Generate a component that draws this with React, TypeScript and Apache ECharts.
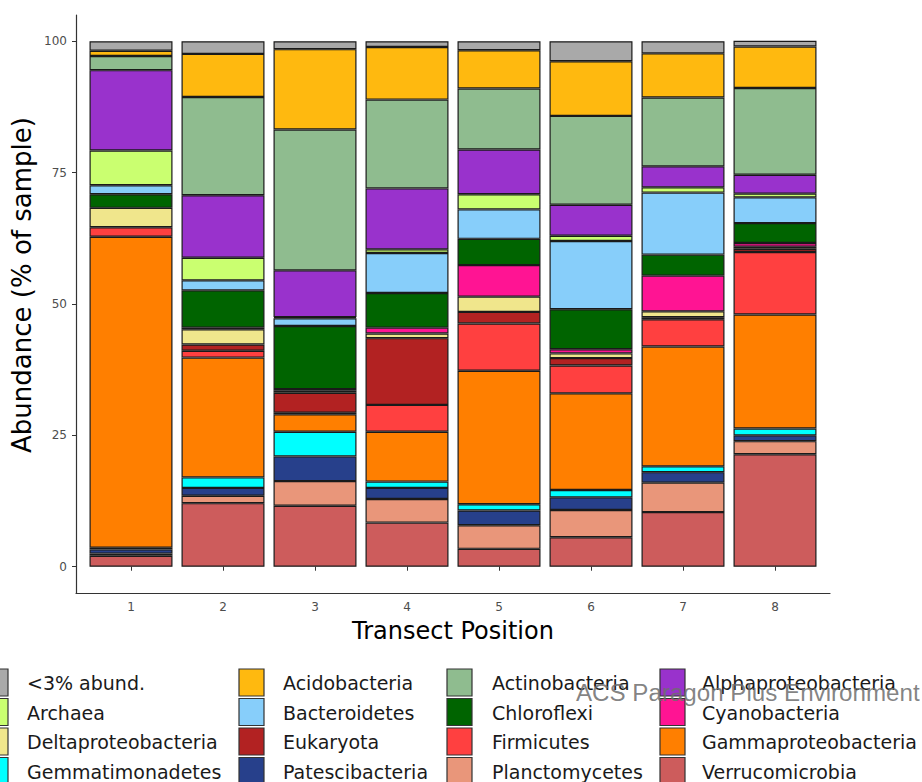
import React, { useEffect, useRef } from "react";
import * as echarts from "echarts";

const positions = ["1", "2", "3", "4", "5", "6", "7", "8"];
const yTicks = [0, 25, 50, 75, 100];

// taxa in legend (alphabetical) order; first is drawn on top of each bar
const taxa = [
  "<3% abund.",
  "Acidobacteria",
  "Actinobacteria",
  "Alphaproteobacteria",
  "Archaea",
  "Bacteroidetes",
  "Chloroflexi",
  "Cyanobacteria",
  "Deltaproteobacteria",
  "Eukaryota",
  "Firmicutes",
  "Gammaproteobacteria",
  "Gemmatimonadetes",
  "Patescibacteria",
  "Planctomycetes",
  "Verrucomicrobia",
];

const taxaColors = [
  "#A9A9A9",
  "#FFB90F",
  "#8FBC8F",
  "#9932CC",
  "#CAFF70",
  "#87CEFA",
  "#006400",
  "#FF1493",
  "#F0E68C",
  "#B22222",
  "#FF4040",
  "#FF7F00",
  "#00FFFF",
  "#27408B",
  "#E9967A",
  "#CD5C5C",
];

const lowAbund = [1.8, 2.4, 1.5, 1.1, 1.7, 3.8, 2.3, 1.1];
const acidobacteria = [1.0, 8.2, 15.3, 10.0, 7.3, 10.4, 8.4, 7.9];
const actinobacteria = [2.7, 18.7, 26.8, 16.9, 11.6, 16.9, 13.1, 16.5];
const alphaproteobacteria = [15.3, 11.9, 8.9, 11.6, 8.5, 5.9, 4.0, 3.6];
const archaea = [6.6, 4.3, 0.2, 0.7, 2.9, 1.0, 1.0, 0.7];
const bacteroidetes = [1.7, 1.9, 1.5, 7.6, 5.6, 13.0, 11.8, 4.9];
const chloroflexi = [2.6, 7.1, 12.0, 6.6, 5.0, 7.6, 4.0, 3.8];
const cyanobacteria = [0, 0.3, 0.3, 1.1, 6.0, 0.8, 6.8, 0.7];
const deltaproteobacteria = [3.7, 2.9, 0.4, 0.9, 2.9, 0.9, 1.1, 0.4];
const eukaryota = [0, 1.2, 3.8, 12.7, 2.2, 1.4, 0.4, 0.6];
const firmicutes = [1.8, 1.3, 0.3, 5.1, 9.0, 5.3, 5.2, 11.9];
const gammaproteobacteria = [59.2, 22.8, 3.3, 9.5, 25.4, 18.4, 22.8, 21.7];
const gemmatimonadetes = [0.3, 2.0, 4.7, 1.2, 1.2, 1.4, 1.1, 1.3];
const patescibacteria = [0.8, 1.5, 4.7, 2.1, 2.8, 2.4, 2.0, 1.1];
const planctomycetes = [0.4, 1.4, 4.7, 4.5, 4.5, 5.2, 5.6, 2.5];
const verrucomicrobia = [2.1, 12.1, 11.6, 8.4, 3.4, 5.6, 10.4, 21.4];

const taxaValues = [
  lowAbund,
  acidobacteria,
  actinobacteria,
  alphaproteobacteria,
  archaea,
  bacteroidetes,
  chloroflexi,
  cyanobacteria,
  deltaproteobacteria,
  eukaryota,
  firmicutes,
  gammaproteobacteria,
  gemmatimonadetes,
  patescibacteria,
  planctomycetes,
  verrucomicrobia,
];

const yTitle = "Abundance (% of sample)";
const xTitle = "Transect Position";
const watermark = "ACS Paragon Plus Environment";

export default function App() {
  const ref = useRef<HTMLDivElement>(null);

  useEffect(() => {
    if (!ref.current) return;
    const chart = echarts.init(ref.current, null, { renderer: "svg" });

    const font = "DejaVu Sans";

    // bottom of stack first in ECharts
    const order = taxa.map((_, i) => i).reverse();
    const series = order.map((i) => ({
      name: taxa[i],
      type: "bar",
      stack: "abund",
      xAxisIndex: 0,
      yAxisIndex: 0,
      barWidth: 83,
      itemStyle: {
        color: taxaColors[i],
        borderColor: "#1a1a1a",
        borderWidth: 1.2,
      },
      emphasis: { disabled: true },
      data: taxaValues[i].map((v) => (v > 0 ? v : "-")),
    }));

    // legend drawn as graphic, 4 columns row-major
    const keyX = [-17, 239, 447, 660];
    const textX = [27, 283, 492, 702];
    const legendItems: any[] = [];
    taxa.forEach((name, i) => {
      const row = Math.floor(i / 4);
      const col = i % 4;
      const top = 669 + row * 29.5;
      legendItems.push({
        type: "rect",
        shape: { x: keyX[col], y: top, width: 25, height: 27 },
        style: { fill: taxaColors[i], stroke: "#333333", lineWidth: 1.2 },
        silent: true,
      });
      legendItems.push({
        type: "text",
        x: textX[col],
        y: top + 14,
        style: {
          text: name,
          fill: "#1a1a1a",
          font: `19px "${font}"`,
          verticalAlign: "middle",
          align: "left",
        },
        silent: true,
      });
    });
    legendItems.push({
      type: "text",
      x: 22,
      y: 285,
      rotation: Math.PI / 2,
      style: {
        text: yTitle,
        fill: "#000",
        font: `26px "${font}"`,
        verticalAlign: "middle",
        align: "center",
      },
      silent: true,
    });
    legendItems.push({
      type: "text",
      x: 576,
      y: 693,
      scaleX: 1.05,
      style: {
        text: watermark,
        fill: "rgba(110,110,110,0.85)",
        font: '23px "Liberation Sans"',
        verticalAlign: "middle",
        align: "left",
      },
      silent: true,
    });

    chart.setOption({
      animation: false,
      backgroundColor: "#ffffff",
      grid: [
        { left: 85, top: 15, width: 736, height: 578, containLabel: false },
        { left: 76, top: 15, width: 754, height: 578, containLabel: false },
      ],
      xAxis: [
        {
          type: "category",
          gridIndex: 0,
          data: positions,
          name: xTitle,
          nameLocation: "middle",
          nameGap: 26,
          nameTextStyle: { fontFamily: font, fontSize: 24, color: "#000" },
          axisLine: { show: false },
          axisTick: { show: true, alignWithLabel: true, length: 4, lineStyle: { color: "#333" } },
          axisLabel: { color: "#4D4D4D", fontFamily: font, fontSize: 12, margin: 8 },
          splitLine: { show: false },
        },
        {
          type: "value",
          gridIndex: 1,
          min: 0,
          max: 1,
          axisLine: { show: true, onZero: false, lineStyle: { color: "#333", width: 1.2 } },
          axisTick: { show: false },
          axisLabel: { show: false },
          splitLine: { show: false },
        },
      ],
      yAxis: [
        {
          type: "value",
          gridIndex: 0,
          min: -5,
          max: 105,
          show: false,
          splitLine: { show: false },
        },
        {
          type: "value",
          gridIndex: 1,
          min: -5,
          max: 105,
          axisLine: { show: true, onZero: false, lineStyle: { color: "#333", width: 1.2 } },
          axisTick: { show: true, length: 4, lineStyle: { color: "#333" }, customValues: yTicks },
          axisLabel: {
            customValues: yTicks,
            color: "#4D4D4D",
            fontFamily: font,
            fontSize: 12,
            margin: 9,
            formatter: (v: number) => String(v),
          },
          splitLine: { show: false },
        },
      ],
      series,
      graphic: legendItems,
    });

    return () => chart.dispose();
  }, []);

  return (
    <div
      ref={ref}
      style={{ position: "absolute", left: 0, top: 0, width: 922, height: 782, background: "#fff" }}
    />
  );
}
